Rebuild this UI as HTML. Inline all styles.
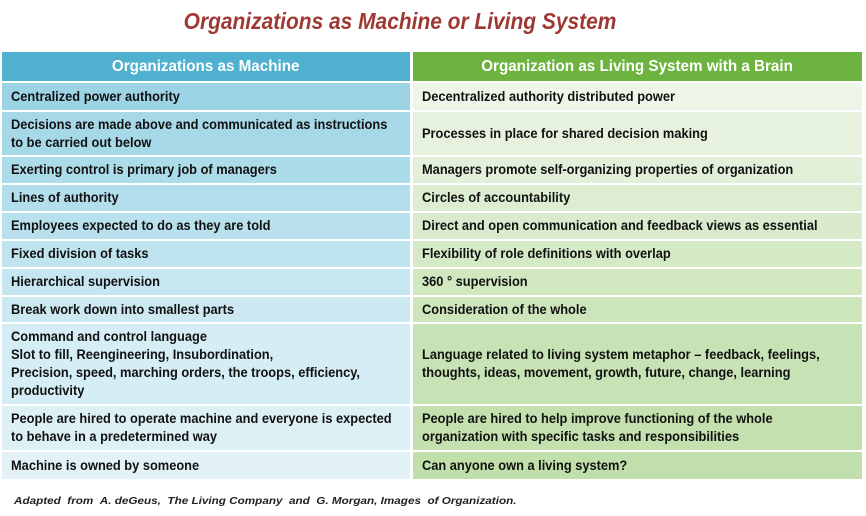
<!DOCTYPE html>
<html><head><meta charset="utf-8"><style>
body{margin:0;width:866px;height:516px;background:#fff;position:relative;overflow:hidden;font-family:"Liberation Sans",sans-serif}
.t{position:absolute;left:0;width:800px;top:8px;text-align:center;color:#9e3833;font-weight:bold;font-style:italic;font-size:23px;transform:scaleX(0.91);transform-origin:400px 0}
.c{position:absolute;display:flex;align-items:center;box-sizing:border-box;padding-left:9px;font-weight:bold;font-size:13.5px;line-height:18px;color:#111}
.c span{display:block;transform:scaleX(0.95);transform-origin:left center;white-space:nowrap}
.h{color:#fff;font-size:16px;justify-content:center;padding:0}
.h span{transform:scaleX(0.95);transform-origin:center}
.f{position:absolute;left:14px;top:496px;font-size:10px;font-style:italic;font-weight:bold;color:#222;transform:scaleX(1.17);transform-origin:left;white-space:nowrap}
</style></head><body>
<div class="t">Organizations as Machine or Living System</div>
<div class="c h" style="left:2px;top:52px;width:408px;height:29px;background:#4fb0d0"><span>Organizations as Machine</span></div>
<div class="c h" style="left:413px;top:52px;width:449px;height:29px;background:#6db33f"><span>Organization as Living System with a Brain</span></div>

<div class="c" style="left:2px;top:83px;width:408px;height:27px;background:#9dd4e5"><span>Centralized power authority</span></div>
<div class="c" style="left:413px;top:83px;width:449px;height:27px;background:#edf6e8"><span>Decentralized authority distributed power</span></div>

<div class="c" style="left:2px;top:112px;width:408px;height:43px;background:#a6d8e8"><span>Decisions are made above and communicated as instructions<br>to be carried out below</span></div>
<div class="c" style="left:413px;top:112px;width:449px;height:43px;background:#e6f2de"><span>Processes in place for shared decision making</span></div>

<div class="c" style="left:2px;top:157px;width:408px;height:26px;background:#acdbea"><span>Exerting control is primary job of managers</span></div>
<div class="c" style="left:413px;top:157px;width:449px;height:26px;background:#e2f0d9"><span>Managers promote self-organizing properties of organization</span></div>

<div class="c" style="left:2px;top:185px;width:408px;height:26px;background:#b3deeb"><span>Lines of authority</span></div>
<div class="c" style="left:413px;top:185px;width:449px;height:26px;background:#ddedd2"><span>Circles of accountability</span></div>

<div class="c" style="left:2px;top:213px;width:408px;height:26px;background:#b9e0ed"><span>Employees expected to do as they are told</span></div>
<div class="c" style="left:413px;top:213px;width:449px;height:26px;background:#d9ebcc"><span>Direct and open communication and feedback views as essential</span></div>

<div class="c" style="left:2px;top:241px;width:408px;height:26px;background:#bfe3ef"><span>Fixed division of tasks</span></div>
<div class="c" style="left:413px;top:241px;width:449px;height:26px;background:#d4e9c6"><span>Flexibility of role definitions with overlap</span></div>

<div class="c" style="left:2px;top:269px;width:408px;height:26px;background:#c6e6f1"><span>Hierarchical supervision</span></div>
<div class="c" style="left:413px;top:269px;width:449px;height:26px;background:#d0e7c0"><span>360 ° supervision</span></div>

<div class="c" style="left:2px;top:297px;width:408px;height:25px;background:#cce9f2"><span>Break work down into smallest parts</span></div>
<div class="c" style="left:413px;top:297px;width:449px;height:25px;background:#cce5bb"><span>Consideration of the whole</span></div>

<div class="c" style="left:2px;top:324px;width:408px;height:80px;background:#d5edf5"><span>Command and control language<br>Slot to fill, Reengineering, Insubordination,<br>Precision, speed, marching orders, the troops, efficiency,<br>productivity</span></div>
<div class="c" style="left:413px;top:324px;width:449px;height:80px;background:#c7e2b4"><span>Language related to living system metaphor – feedback, feelings,<br>thoughts, ideas, movement, growth, future, change, learning</span></div>

<div class="c" style="left:2px;top:406px;width:408px;height:44px;background:#ddf0f6"><span>People are hired to operate machine and everyone is expected<br>to behave in a predetermined way</span></div>
<div class="c" style="left:413px;top:406px;width:449px;height:44px;background:#c4e0ae"><span>People are hired to help improve functioning of the whole<br>organization with specific tasks and responsibilities</span></div>

<div class="c" style="left:2px;top:452px;width:408px;height:27px;background:#e3f2f7"><span>Machine is owned by someone</span></div>
<div class="c" style="left:413px;top:452px;width:449px;height:27px;background:#c1dfaa"><span>Can anyone own a living system?</span></div>

<div class="f">Adapted &nbsp;from &nbsp;A. deGeus, &nbsp;The Living Company &nbsp;and &nbsp;G. Morgan, Images &nbsp;of Organization.</div>
</body></html>
